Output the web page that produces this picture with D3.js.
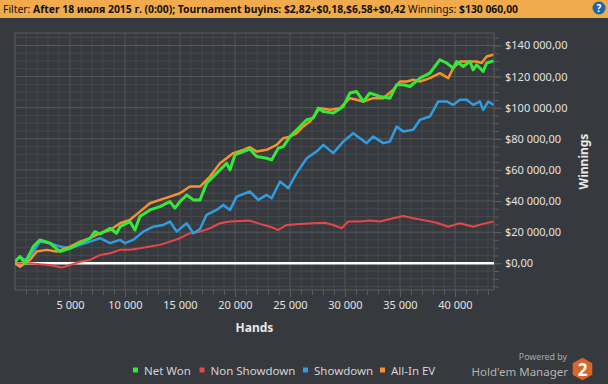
<!DOCTYPE html>
<html>
<head>
<meta charset="utf-8">
<script src="https://cdn.jsdelivr.net/npm/d3@7"></script>
<style>
  html, body { margin: 0; padding: 0; background: #36393d; }
  svg { display: block; }
</style>
</head>
<body>
<div id="chart"></div>
<script>
// [hands, winnings]
const netWon = [
  [0, 1000], [450, 4300], [910, 0], [1660, 10700], [2270, 15000], [3180, 12900],
  [4090, 7500], [5000, 9600], [5910, 12900], [6820, 16000], [7270, 20300],
  [7730, 18800], [8640, 22500], [9240, 19300], [9550, 23500], [10450, 26800],
  [10910, 21400], [11360, 30000], [12270, 34300], [13180, 36400], [14090, 39600],
  [14540, 35400], [15000, 39600], [15610, 43900], [16210, 40700], [16820, 40700],
  [17420, 51500], [18030, 55700], [18640, 60000], [19240, 64300], [19550, 60000],
  [20000, 69700], [20760, 71800], [21360, 73300], [21970, 68600], [22880, 67500],
  [23330, 66400], [23940, 74000], [24390, 75000], [25000, 81400], [25910, 87900],
  [26520, 92200], [27120, 93300], [27570, 99700], [28030, 97500], [28940, 96500],
  [29840, 100700], [30450, 109400], [31060, 110400], [31660, 104000], [32270, 109400],
  [33180, 107200], [34090, 106100], [34700, 114700], [35300, 114700], [35910, 113600],
  [36820, 119000], [37720, 122200], [38630, 130800], [39240, 128700], [39840, 125400],
  [40150, 129700], [40750, 126500], [41360, 129700], [41660, 124300], [41970, 127600],
  [42570, 123300], [42880, 128700], [43500, 130060]
];
const nonShowdown = [
  [0, 0], [1360, 0], [2270, -600], [3180, -1100], [4240, -2800], [5000, -1100],
  [5910, 1000], [6820, 2100], [7730, 5300], [8640, 6400], [9550, 8600], [10450, 8600],
  [11360, 9600], [12270, 10700], [13180, 11800], [14090, 13900], [15000, 16100],
  [15910, 19300], [16820, 20300], [17730, 22500], [18640, 25700], [19550, 26800],
  [21360, 27400], [22270, 25300], [23180, 23500], [23940, 21400], [24700, 24600],
  [25910, 25300], [27120, 25700], [28180, 26000], [28940, 24600], [29700, 22500],
  [30300, 26800], [31360, 26800], [32270, 27400], [33180, 26800], [34390, 28900],
  [35300, 30400], [36210, 28900], [37420, 27400], [38330, 26000], [39390, 23500],
  [40450, 25700], [41660, 23500], [42570, 25300], [43500, 26800]
];
const showdown = [
  [0, 1000], [450, 4300], [910, 2100], [1360, 4300], [2270, 13900], [3180, 12900],
  [4090, 10700], [5000, 9600], [5910, 11800], [6820, 13900], [7730, 16100],
  [8640, 12900], [9550, 15000], [10000, 12900], [10750, 15000], [11660, 20300],
  [12570, 23500], [13480, 24600], [14090, 26800], [14700, 20300], [15610, 25700],
  [16210, 19300], [16820, 22000], [17420, 31100], [18330, 34300], [18940, 37500],
  [19550, 34300], [20150, 42800], [21360, 46100], [22120, 40700], [22880, 43900],
  [23330, 41800], [24090, 52500], [24850, 48200], [25610, 57900], [26520, 67500],
  [27420, 71800], [28030, 76100], [28940, 70800], [29840, 78200], [30750, 83600],
  [31360, 80400], [31970, 77200], [32570, 81400], [33480, 77200], [34090, 78200],
  [34700, 87900], [35300, 84700], [36210, 85800], [36820, 92200], [37720, 94300],
  [38480, 104000], [39240, 104000], [39840, 101800], [40450, 105100], [41060, 105100],
  [41660, 101800], [42270, 104000], [42570, 98600], [43030, 104000], [43500, 101800]
];
const allInEv = [
  [0, 0], [450, -2200], [1360, 2100], [1970, 7500], [2880, 8600], [3790, 7500],
  [5000, 10700], [5910, 13900], [6820, 16100], [7730, 19300], [8640, 21400],
  [9550, 25700], [10450, 27900], [11360, 33200], [12270, 38600], [13180, 40700],
  [14090, 42800], [15000, 45000], [15910, 49300], [16820, 49300], [17730, 55700],
  [18640, 64300], [19240, 67500], [19850, 70800], [20760, 72900], [21360, 74600],
  [21970, 71800], [22880, 72900], [23790, 76100], [24390, 80400], [25000, 81400],
  [25610, 83600], [26210, 87900], [26820, 91100], [27730, 99700], [28640, 98600],
  [29550, 99700], [30450, 106100], [31060, 105100], [31660, 104000], [32570, 106100],
  [33480, 106100], [34390, 111500], [35000, 116800], [35610, 116800], [36210, 117900],
  [36820, 116800], [37720, 119000], [38630, 122200], [39390, 119000], [39840, 125400],
  [40450, 129700], [41060, 129700], [41970, 129700], [42430, 128700], [42880, 132900],
  [43480, 134000]
];

const seriesNames = ["Net Won", "Non Showdown", "Showdown", "All-In EV"];
const seriesColors = ["#35e83a", "#e8474a", "#2f9de0", "#f5922f"];
const xTicks = [5000, 10000, 15000, 20000, 25000, 30000, 35000, 40000];
const yTicks = [0, 20000, 40000, 60000, 80000, 100000, 120000, 140000];

const width = 608, height = 384;
const plot = { left: 15, right: 494, top: 33, bottom: 290 };
const font = "'Noto Sans', sans-serif";

const svg = d3
  .select("#chart")
  .append("svg")
  .attr("width", width)
  .attr("height", height)
  .style("font-family", font);

svg.append("rect").attr("width", width).attr("height", height).attr("fill", "#36393d");

// filter bar on top
svg.append("rect").attr("width", width).attr("height", 18).attr("fill", "#f1ab4c");
const filter = svg
  .append("text")
  .attr("x", 3)
  .attr("y", 13)
  .attr("font-size", 11)
  .attr("fill", "#111");
filter.append("tspan").text("Filter: ");
filter
  .append("tspan")
  .attr("font-weight", "bold")
  .text("After 18 июля 2015 г. (0:00); Tournament buyins: $2,82+$0,18,$6,58+$0,42");
filter.append("tspan").text(" Winnings: ");
filter.append("tspan").attr("font-weight", "bold").text("$130 060,00");
// the original font is narrower, shrink to the same run length
const filterLen = filter.node().getComputedTextLength();
if (filterLen > 516) filter.attr("font-size", (11 * 516) / filterLen);

svg.append("circle").attr("cx", 599).attr("cy", 8).attr("r", 6.5).attr("fill", "#1f64a8");
svg
  .append("text")
  .attr("x", 599)
  .attr("y", 11.5)
  .attr("text-anchor", "middle")
  .attr("font-size", 10)
  .attr("font-weight", "bold")
  .attr("fill", "#fff")
  .text("?");

const x = d3.scaleLinear().domain([0, 43550]).range([plot.left, plot.right]);
const y = d3.scaleLinear().domain([-17200, 148000]).range([plot.bottom, plot.top]);

const loc = d3.formatLocale({
  decimal: ",",
  thousands: " ",
  grouping: [3],
  currency: ["$", ""],
});
const money = loc.format("$,.2f");
const num = loc.format(",d");

// grid
const grid = svg.append("g");
const xMinor = d3.range(1000, 43550, 1000);
const yMinor = d3.range(-15000, 148000, 5000);
grid
  .selectAll(".vx")
  .data(xMinor)
  .join("line")
  .attr("x1", (d) => x(d))
  .attr("x2", (d) => x(d))
  .attr("y1", plot.top)
  .attr("y2", plot.bottom)
  .attr("stroke", (d) => (d % 5000 === 0 ? "#56595d" : "#45484c"))
  .attr("stroke-width", 1);
grid
  .selectAll(".hy")
  .data(yMinor)
  .join("line")
  .attr("x1", plot.left)
  .attr("x2", plot.right)
  .attr("y1", (d) => y(d))
  .attr("y2", (d) => y(d))
  .attr("stroke", (d) => (d % 20000 === 0 ? "#56595d" : "#45484c"))
  .attr("stroke-width", 1);
grid
  .append("rect")
  .attr("x", plot.left)
  .attr("y", plot.top)
  .attr("width", plot.right - plot.left)
  .attr("height", plot.bottom - plot.top)
  .attr("fill", "none")
  .attr("stroke", "#5a5d61");

// axes
const xAxisMinor = svg
  .append("g")
  .attr("transform", `translate(0, ${plot.bottom})`)
  .call(d3.axisBottom(x).tickValues(xMinor).tickSize(5).tickFormat(""));
const xAxis = svg
  .append("g")
  .attr("transform", `translate(0, ${plot.bottom})`)
  .call(d3.axisBottom(x).tickValues(xTicks).tickSize(7).tickPadding(4).tickFormat(num));
const yAxisMinor = svg
  .append("g")
  .attr("transform", `translate(${plot.right}, 0)`)
  .call(d3.axisRight(y).tickValues(yMinor).tickSize(5).tickFormat(""));
const yAxis = svg
  .append("g")
  .attr("transform", `translate(${plot.right}, 0)`)
  .call(d3.axisRight(y).tickValues(yTicks).tickSize(8).tickPadding(3).tickFormat(money));

[xAxisMinor, xAxis, yAxisMinor, yAxis].forEach((a) => {
  a.select(".domain").remove();
  a.selectAll("line").attr("stroke", "#5a5d61");
  a.selectAll("text")
    .attr("fill", "#e2e2e2")
    .attr("font-size", 11)
    .attr("font-family", font);
});

svg
  .append("text")
  .attr("x", (plot.left + plot.right) / 2)
  .attr("y", 332)
  .attr("text-anchor", "middle")
  .attr("font-size", 12)
  .attr("font-weight", "bold")
  .attr("fill", "#e8e8e8")
  .text("Hands");
svg
  .append("text")
  .attr("transform", `translate(588, ${(plot.top + plot.bottom) / 2}) rotate(-90)`)
  .attr("text-anchor", "middle")
  .attr("font-size", 12)
  .attr("font-weight", "bold")
  .attr("fill", "#e8e8e8")
  .text("Winnings");

// zero line
svg
  .append("line")
  .attr("x1", plot.left)
  .attr("x2", plot.right)
  .attr("y1", y(0))
  .attr("y2", y(0))
  .attr("stroke", "#fff")
  .attr("stroke-width", 2.5);

svg
  .append("clipPath")
  .attr("id", "plot-clip")
  .append("rect")
  .attr("x", plot.left)
  .attr("y", plot.top)
  .attr("width", plot.right - plot.left)
  .attr("height", plot.bottom - plot.top);

const line = d3
  .line()
  .x((d) => x(d[0]))
  .y((d) => y(d[1]));

// draw order: red, blue, orange, green on top
const series = [
  { data: nonShowdown, color: seriesColors[1], w: 2 },
  { data: showdown, color: seriesColors[2], w: 2.5 },
  { data: allInEv, color: seriesColors[3], w: 2.5 },
  { data: netWon, color: seriesColors[0], w: 3 },
];
svg
  .append("g")
  .attr("clip-path", "url(#plot-clip)")
  .selectAll("path")
  .data(series)
  .join("path")
  .attr("d", (d) => line(d.data))
  .attr("fill", "none")
  .attr("stroke", (d) => d.color)
  .attr("stroke-width", (d) => d.w)
  .attr("stroke-linejoin", "round");

// legend
const legendX = [133, 199.5, 303, 380];
const legend = svg
  .append("g")
  .selectAll("g")
  .data(seriesNames)
  .join("g")
  .attr("transform", (d, i) => `translate(${legendX[i]}, 370)`);
legend
  .append("rect")
  .attr("x", 0)
  .attr("y", -2.5)
  .attr("width", 5)
  .attr("height", 5)
  .attr("fill", (d, i) => seriesColors[i]);
legend
  .append("text")
  .attr("x", 11)
  .attr("y", 4.5)
  .attr("font-size", 11.5)
  .attr("fill", "#d4d4d4")
  .text((d) => d);

// powered by logo
svg
  .append("text")
  .attr("x", 567)
  .attr("y", 360)
  .attr("text-anchor", "end")
  .attr("font-size", 8.8)
  .attr("fill", "#a9a9a9")
  .text("Powered by");
svg
  .append("text")
  .attr("x", 568)
  .attr("y", 376)
  .attr("text-anchor", "end")
  .attr("font-size", 11.5)
  .attr("fill", "#b4b4b4")
  .text("Hold'em Manager");
const hex = d3.range(6).map((i) => {
  const a = (Math.PI / 3) * i - Math.PI / 2;
  return [582.5 + 11.3 * Math.cos(a), 369 + 11.3 * Math.sin(a)];
});
svg.append("path").attr("d", d3.line()(hex) + "Z").attr("fill", "#d8672b");
svg
  .append("text")
  .attr("x", 582.5)
  .attr("y", 375.5)
  .attr("text-anchor", "middle")
  .attr("font-size", 17)
  .attr("font-weight", "bold")
  .attr("fill", "#fff")
  .text("2");
</script>
</body>
</html>
